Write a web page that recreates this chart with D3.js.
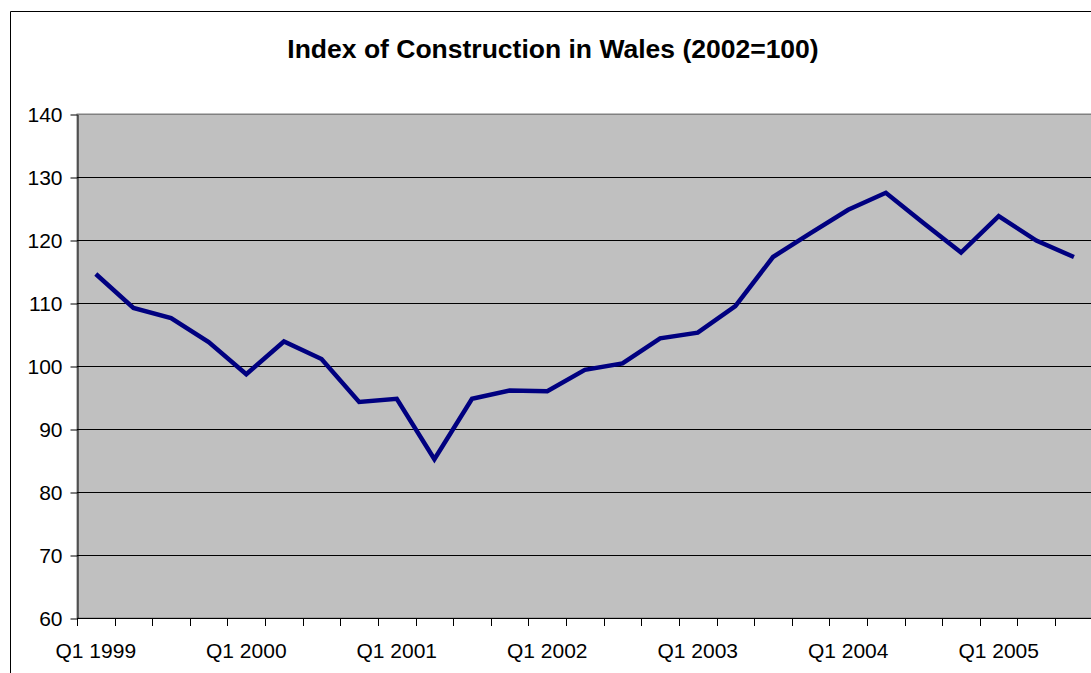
<!DOCTYPE html>
<html>
<head>
<meta charset="utf-8">
<script src="https://cdn.jsdelivr.net/npm/d3@7"></script>
<style>
  body { margin: 0; background: #fff; }
  svg { display: block; font-family: 'Liberation Sans', Arial, sans-serif; }
</style>
</head>
<body>
<div id="viz"></div>
<script>
const years = [1999, 2000, 2001, 2002, 2003, 2004, 2005];
const quarters = ['Q1', 'Q2', 'Q3', 'Q4'];
// Q1 1999 .. Q3 2005
const categories = years.flatMap(y => quarters.map(q => `${q} ${y}`)).slice(0, 27);
const indexValues = [
  114.6, 109.2, 107.6, 103.8, 98.7, 103.9, 101.1, 94.3, 94.8, 85.2,
  94.8, 96.1, 96.0, 99.4, 100.4, 104.4, 105.3, 109.5, 117.3, 121.1,
  124.8, 127.5, 122.7, 118.0, 123.8, 119.9, 117.3
];
const yTicks = [60, 70, 80, 90, 100, 110, 120, 130, 140];
const title = 'Index of Construction in Wales (2002=100)';

const width = 1091, height = 673;
const plot = { left: 77, top: 114, bottom: 618, step: 37.62 };
plot.right = plot.left + plot.step * categories.length;

const svg = d3.select('#viz').append('svg')
  .attr('width', width)
  .attr('height', height);

// chart frame (clipped on right / bottom like the original)
svg.append('path')
  .attr('d', `M10.5,${height + 5}V11.5H${width + 5}`)
  .attr('fill', 'none')
  .attr('stroke', '#000')
  .attr('stroke-width', 1);

svg.append('text')
  .attr('x', 553)
  .attr('y', 58)
  .attr('text-anchor', 'middle')
  .style('font-size', '26.5px')
  .style('font-weight', 'bold')
  .text(title);

const x = d3.scaleBand()
  .domain(categories)
  .range([plot.left, plot.right])
  .padding(0);

const y = d3.scaleLinear()
  .domain([60, 140])
  .range([plot.bottom, plot.top]);

// plot background
svg.append('rect')
  .attr('x', plot.left)
  .attr('y', plot.top)
  .attr('width', plot.right - plot.left)
  .attr('height', plot.bottom - plot.top)
  .attr('fill', '#c0c0c0')
  .attr('stroke', '#808080')
  .attr('stroke-width', 1);

// gridlines
svg.append('g')
  .selectAll('line')
  .data(yTicks.filter(d => d > 60))
  .enter().append('line')
    .attr('x1', plot.left)
    .attr('x2', plot.right)
    .attr('y1', d => Math.round(y(d)) + 0.5)
    .attr('y2', d => Math.round(y(d)) + 0.5)
    .attr('stroke', d => d === 140 ? '#808080' : '#000')
    .attr('stroke-width', 1);

// y axis
const yAxis = svg.append('g')
  .attr('transform', `translate(${plot.left + 0.5}, 0.5)`)
  .call(d3.axisLeft(y).tickValues(yTicks).tickSize(7).tickPadding(8).tickSizeOuter(0));
yAxis.select('.domain').attr('stroke', '#000');
yAxis.selectAll('text').style('font-size', '21px').attr('fill', '#000').attr('dy', '0.35em');

// x axis: baseline, tick marks at category boundaries, labels on Q1
svg.append('line')
  .attr('x1', plot.left)
  .attr('x2', plot.right)
  .attr('y1', plot.bottom + 0.5)
  .attr('y2', plot.bottom + 0.5)
  .attr('stroke', '#000');

svg.append('g')
  .selectAll('line')
  .data(categories)
  .enter().append('line')
    .attr('x1', d => Math.round(x(d)) + 0.5)
    .attr('x2', d => Math.round(x(d)) + 0.5)
    .attr('y1', plot.bottom)
    .attr('y2', plot.bottom + 8)
    .attr('stroke', '#000');

svg.append('g')
  .selectAll('text')
  .data(categories.filter(d => d.startsWith('Q1')))
  .enter().append('text')
    .attr('x', d => x(d) + x.bandwidth() / 2)
    .attr('y', 658)
    .attr('text-anchor', 'middle')
    .style('font-size', '21px')
    .text(d => d);

// series line
const line = d3.line()
  .x((d, i) => x(categories[i]) + x.bandwidth() / 2)
  .y(d => y(d));

svg.append('path')
  .datum(indexValues)
  .attr('d', line)
  .attr('fill', 'none')
  .attr('stroke', '#000080')
  .attr('stroke-width', 4.5)
  .attr('stroke-linejoin', 'miter');
</script>
</body>
</html>
